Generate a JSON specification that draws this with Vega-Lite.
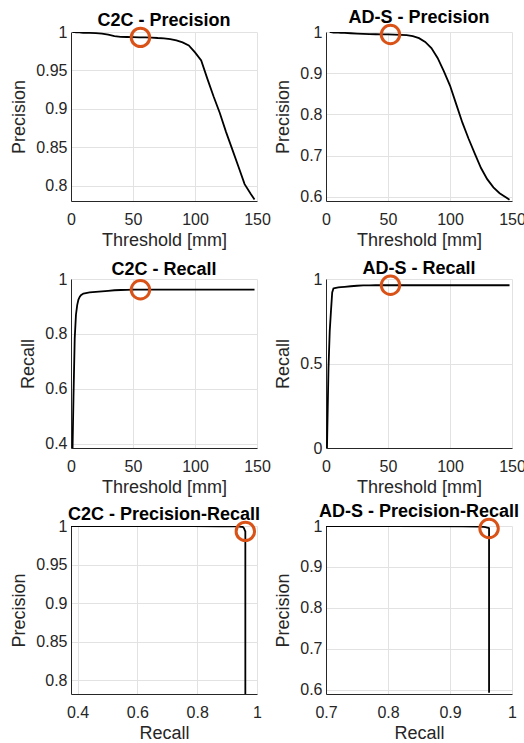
{
  "$schema": "https://vega.github.io/schema/vega-lite/v6.json",
  "background": "white",
  "padding": {"left": 10, "top": 9, "right": 14, "bottom": 0},
  "columns": 2,
  "bounds": "flush",
  "spacing": {"row": 78, "column": 69},
  "datasets": {
    "curves": [
      {"method": "C2C", "t": 1, "precision": 1.0, "recall": 0.32},
      {"method": "C2C", "t": 2, "precision": 1.0, "recall": 0.57},
      {"method": "C2C", "t": 3, "precision": 0.9998, "recall": 0.784},
      {"method": "C2C", "t": 4, "precision": 0.9997, "recall": 0.87},
      {"method": "C2C", "t": 5, "precision": 0.9996, "recall": 0.905},
      {"method": "C2C", "t": 6, "precision": 0.9995, "recall": 0.925},
      {"method": "C2C", "t": 7, "precision": 0.9994, "recall": 0.935},
      {"method": "C2C", "t": 8, "precision": 0.9993, "recall": 0.941},
      {"method": "C2C", "t": 10, "precision": 0.999, "recall": 0.947},
      {"method": "C2C", "t": 12, "precision": 0.9989, "recall": 0.949},
      {"method": "C2C", "t": 15, "precision": 0.9988, "recall": 0.951},
      {"method": "C2C", "t": 20, "precision": 0.9985, "recall": 0.953},
      {"method": "C2C", "t": 25, "precision": 0.998, "recall": 0.955},
      {"method": "C2C", "t": 30, "precision": 0.9965, "recall": 0.957},
      {"method": "C2C", "t": 35, "precision": 0.9945, "recall": 0.959},
      {"method": "C2C", "t": 40, "precision": 0.9937, "recall": 0.96},
      {"method": "C2C", "t": 45, "precision": 0.9935, "recall": 0.9605},
      {"method": "C2C", "t": 50, "precision": 0.9932, "recall": 0.961},
      {"method": "C2C", "t": 55, "precision": 0.993, "recall": 0.961},
      {"method": "C2C", "t": 60, "precision": 0.993, "recall": 0.961},
      {"method": "C2C", "t": 65, "precision": 0.9928, "recall": 0.961},
      {"method": "C2C", "t": 70, "precision": 0.9922, "recall": 0.961},
      {"method": "C2C", "t": 75, "precision": 0.9918, "recall": 0.961},
      {"method": "C2C", "t": 80, "precision": 0.9908, "recall": 0.961},
      {"method": "C2C", "t": 85, "precision": 0.989, "recall": 0.961},
      {"method": "C2C", "t": 90, "precision": 0.9865, "recall": 0.961},
      {"method": "C2C", "t": 95, "precision": 0.9825, "recall": 0.961},
      {"method": "C2C", "t": 100, "precision": 0.9735, "recall": 0.961},
      {"method": "C2C", "t": 105, "precision": 0.963, "recall": 0.961},
      {"method": "C2C", "t": 110, "precision": 0.939, "recall": 0.961},
      {"method": "C2C", "t": 115, "precision": 0.916, "recall": 0.961},
      {"method": "C2C", "t": 120, "precision": 0.8946, "recall": 0.961},
      {"method": "C2C", "t": 125, "precision": 0.87, "recall": 0.961},
      {"method": "C2C", "t": 130, "precision": 0.8476, "recall": 0.961},
      {"method": "C2C", "t": 135, "precision": 0.825, "recall": 0.961},
      {"method": "C2C", "t": 140, "precision": 0.802, "recall": 0.961},
      {"method": "C2C", "t": 145, "precision": 0.789, "recall": 0.961},
      {"method": "C2C", "t": 148, "precision": 0.782, "recall": 0.961},
      {"method": "AD-S", "t": 0.8, "precision": null, "recall": 0.0},
      {"method": "AD-S", "t": 1, "precision": null, "recall": 0.08},
      {"method": "AD-S", "t": 2, "precision": null, "recall": 0.47},
      {"method": "AD-S", "t": 3, "precision": 1.0, "recall": 0.69},
      {"method": "AD-S", "t": 4, "precision": 0.9995, "recall": 0.81},
      {"method": "AD-S", "t": 5, "precision": 0.999, "recall": 0.92},
      {"method": "AD-S", "t": 6, "precision": 0.9988, "recall": 0.944},
      {"method": "AD-S", "t": 7, "precision": 0.9986, "recall": 0.946},
      {"method": "AD-S", "t": 8, "precision": 0.9985, "recall": 0.948},
      {"method": "AD-S", "t": 10, "precision": 0.9983, "recall": 0.95},
      {"method": "AD-S", "t": 12, "precision": 0.998, "recall": 0.952},
      {"method": "AD-S", "t": 15, "precision": 0.9977, "recall": 0.954},
      {"method": "AD-S", "t": 20, "precision": 0.997, "recall": 0.957},
      {"method": "AD-S", "t": 25, "precision": 0.9962, "recall": 0.96},
      {"method": "AD-S", "t": 30, "precision": 0.9955, "recall": 0.962},
      {"method": "AD-S", "t": 35, "precision": 0.995, "recall": 0.9625},
      {"method": "AD-S", "t": 40, "precision": 0.9945, "recall": 0.963},
      {"method": "AD-S", "t": 45, "precision": 0.9942, "recall": 0.963},
      {"method": "AD-S", "t": 50, "precision": 0.994, "recall": 0.963},
      {"method": "AD-S", "t": 55, "precision": 0.9935, "recall": 0.963},
      {"method": "AD-S", "t": 60, "precision": 0.993, "recall": 0.963},
      {"method": "AD-S", "t": 65, "precision": 0.9925, "recall": 0.963},
      {"method": "AD-S", "t": 70, "precision": 0.99, "recall": 0.963},
      {"method": "AD-S", "t": 75, "precision": 0.985, "recall": 0.963},
      {"method": "AD-S", "t": 80, "precision": 0.976, "recall": 0.963},
      {"method": "AD-S", "t": 85, "precision": 0.961, "recall": 0.963},
      {"method": "AD-S", "t": 90, "precision": 0.937, "recall": 0.963},
      {"method": "AD-S", "t": 95, "precision": 0.905, "recall": 0.963},
      {"method": "AD-S", "t": 100, "precision": 0.87, "recall": 0.963},
      {"method": "AD-S", "t": 105, "precision": 0.825, "recall": 0.963},
      {"method": "AD-S", "t": 110, "precision": 0.78, "recall": 0.963},
      {"method": "AD-S", "t": 115, "precision": 0.741, "recall": 0.963},
      {"method": "AD-S", "t": 120, "precision": 0.705, "recall": 0.963},
      {"method": "AD-S", "t": 125, "precision": 0.67, "recall": 0.963},
      {"method": "AD-S", "t": 130, "precision": 0.643, "recall": 0.963},
      {"method": "AD-S", "t": 135, "precision": 0.623, "recall": 0.963},
      {"method": "AD-S", "t": 140, "precision": 0.609, "recall": 0.963},
      {"method": "AD-S", "t": 145, "precision": 0.599, "recall": 0.963},
      {"method": "AD-S", "t": 148, "precision": 0.593, "recall": 0.963}
    ],
    "best": [
      {"method": "C2C", "t": 56, "precision": 0.993, "recall": 0.961},
      {"method": "AD-S", "t": 52, "precision": 0.994, "recall": 0.963}
    ]
  },
  "concat": [
    {
      "title": {"text": "C2C - Precision"},
      "width": 186, "height": 169,
      "layer": [
        {
          "data": {"name": "curves"},
          "transform": [{"filter": "datum.method === 'C2C' && isValid(datum.precision)"}],
          "mark": {"type": "line", "color": "black", "strokeWidth": 1.8, "clip": true},
          "encoding": {
            "x": {"field": "t", "type": "quantitative", "scale": {"domain": [0, 150], "nice": false, "zero": false}, "axis": {"values": [0, 50, 100, 150], "title": "Threshold [mm]"}},
            "y": {"field": "precision", "type": "quantitative", "scale": {"domain": [0.78, 1], "nice": false, "zero": false}, "axis": {"values": [0.8, 0.85, 0.9, 0.95, 1], "title": "Precision"}}
          }
        },
        {
          "data": {"name": "best"},
          "transform": [{"filter": "datum.method === 'C2C'"}],
          "mark": {"type": "point", "shape": "circle", "filled": false, "stroke": "#D95319", "strokeWidth": 3, "size": 340, "opacity": 1},
          "encoding": {
            "x": {"field": "t", "type": "quantitative"},
            "y": {"field": "precision", "type": "quantitative"}
          }
        }
      ]
    },
    {
      "title": {"text": "AD-S - Precision"},
      "width": 186, "height": 169,
      "layer": [
        {
          "data": {"name": "curves"},
          "transform": [{"filter": "datum.method === 'AD-S' && isValid(datum.precision)"}],
          "mark": {"type": "line", "color": "black", "strokeWidth": 1.8, "clip": true},
          "encoding": {
            "x": {"field": "t", "type": "quantitative", "scale": {"domain": [0, 150], "nice": false, "zero": false}, "axis": {"values": [0, 50, 100, 150], "title": "Threshold [mm]"}},
            "y": {"field": "precision", "type": "quantitative", "scale": {"domain": [0.59, 1], "nice": false, "zero": false}, "axis": {"values": [0.6, 0.7, 0.8, 0.9, 1], "title": "Precision"}}
          }
        },
        {
          "data": {"name": "best"},
          "transform": [{"filter": "datum.method === 'AD-S'"}],
          "mark": {"type": "point", "shape": "circle", "filled": false, "stroke": "#D95319", "strokeWidth": 3, "size": 340, "opacity": 1},
          "encoding": {
            "x": {"field": "t", "type": "quantitative"},
            "y": {"field": "precision", "type": "quantitative"}
          }
        }
      ]
    },
    {
      "title": {"text": "C2C - Recall"},
      "width": 186, "height": 169,
      "layer": [
        {
          "data": {"name": "curves"},
          "transform": [{"filter": "datum.method === 'C2C'"}],
          "mark": {"type": "line", "color": "black", "strokeWidth": 1.8, "clip": true},
          "encoding": {
            "x": {"field": "t", "type": "quantitative", "scale": {"domain": [0, 150], "nice": false, "zero": false}, "axis": {"values": [0, 50, 100, 150], "title": "Threshold [mm]"}},
            "y": {"field": "recall", "type": "quantitative", "scale": {"domain": [0.385, 1], "nice": false, "zero": false}, "axis": {"values": [0.4, 0.6, 0.8, 1], "title": "Recall"}}
          }
        },
        {
          "data": {"name": "best"},
          "transform": [{"filter": "datum.method === 'C2C'"}],
          "mark": {"type": "point", "shape": "circle", "filled": false, "stroke": "#D95319", "strokeWidth": 3, "size": 340, "opacity": 1},
          "encoding": {
            "x": {"field": "t", "type": "quantitative"},
            "y": {"field": "recall", "type": "quantitative"}
          }
        }
      ]
    },
    {
      "title": {"text": "AD-S - Recall"},
      "width": 186, "height": 169,
      "layer": [
        {
          "data": {"name": "curves"},
          "transform": [{"filter": "datum.method === 'AD-S'"}],
          "mark": {"type": "line", "color": "black", "strokeWidth": 1.8, "clip": true},
          "encoding": {
            "x": {"field": "t", "type": "quantitative", "scale": {"domain": [0, 150], "nice": false, "zero": false}, "axis": {"values": [0, 50, 100, 150], "title": "Threshold [mm]"}},
            "y": {"field": "recall", "type": "quantitative", "scale": {"domain": [0, 1], "nice": false, "zero": false}, "axis": {"values": [0, 0.5, 1], "title": "Recall"}}
          }
        },
        {
          "data": {"name": "best"},
          "transform": [{"filter": "datum.method === 'AD-S'"}],
          "mark": {"type": "point", "shape": "circle", "filled": false, "stroke": "#D95319", "strokeWidth": 3, "size": 340, "opacity": 1},
          "encoding": {
            "x": {"field": "t", "type": "quantitative"},
            "y": {"field": "recall", "type": "quantitative"}
          }
        }
      ]
    },
    {
      "title": {"text": "C2C - Precision-Recall"},
      "width": 186, "height": 168,
      "layer": [
        {
          "data": {"name": "curves"},
          "transform": [{"filter": "datum.method === 'C2C' && isValid(datum.precision)"}],
          "mark": {"type": "line", "color": "black", "strokeWidth": 1.8, "clip": true},
          "encoding": {
            "x": {"field": "recall", "type": "quantitative", "scale": {"domain": [0.378, 1], "nice": false, "zero": false}, "axis": {"values": [0.4, 0.6, 0.8, 1], "title": "Recall"}},
            "y": {"field": "precision", "type": "quantitative", "scale": {"domain": [0.782, 1], "nice": false, "zero": false}, "axis": {"values": [0.8, 0.85, 0.9, 0.95, 1], "title": "Precision"}},
            "order": {"field": "t", "type": "quantitative"}
          }
        },
        {
          "data": {"name": "best"},
          "transform": [{"filter": "datum.method === 'C2C'"}],
          "mark": {"type": "point", "shape": "circle", "filled": false, "stroke": "#D95319", "strokeWidth": 3, "size": 340, "opacity": 1},
          "encoding": {
            "x": {"field": "recall", "type": "quantitative"},
            "y": {"field": "precision", "type": "quantitative"}
          }
        }
      ]
    },
    {
      "title": {"text": "AD-S - Precision-Recall"},
      "width": 186, "height": 168,
      "layer": [
        {
          "data": {"name": "curves"},
          "transform": [{"filter": "datum.method === 'AD-S' && isValid(datum.precision)"}],
          "mark": {"type": "line", "color": "black", "strokeWidth": 1.8, "clip": true},
          "encoding": {
            "x": {"field": "recall", "type": "quantitative", "scale": {"domain": [0.7, 1], "nice": false, "zero": false}, "axis": {"values": [0.7, 0.8, 0.9, 1], "title": "Recall"}},
            "y": {"field": "precision", "type": "quantitative", "scale": {"domain": [0.59, 1], "nice": false, "zero": false}, "axis": {"values": [0.6, 0.7, 0.8, 0.9, 1], "title": "Precision"}},
            "order": {"field": "t", "type": "quantitative"}
          }
        },
        {
          "data": {"name": "best"},
          "transform": [{"filter": "datum.method === 'AD-S'"}],
          "mark": {"type": "point", "shape": "circle", "filled": false, "stroke": "#D95319", "strokeWidth": 3, "size": 340, "opacity": 1},
          "encoding": {
            "x": {"field": "recall", "type": "quantitative"},
            "y": {"field": "precision", "type": "quantitative"}
          }
        }
      ]
    }
  ],
  "config": {
    "view": {"stroke": null},
    "font": "Liberation Sans",
    "title": {"fontSize": 18, "fontWeight": "bold", "color": "black", "offset": -8, "frame": "group", "anchor": "middle", "font": "Liberation Sans"},
    "axis": {
      "domainColor": "#262626", "domainWidth": 1, "ticks": false, "grid": true, "gridColor": "#e2e2e2", "gridWidth": 1,
      "labelFontSize": 16, "labelColor": "#262626", "labelFont": "Liberation Sans", "labelFlush": false, "labelOverlap": false, "format": "~r",
      "titleFontSize": 18, "titleFontWeight": "normal", "titleColor": "#262626", "titleFont": "Liberation Sans"
    },
    "axisX": {"labelPadding": 10, "titlePadding": 4},
    "axisY": {"labelPadding": 4, "titlePadding": 7}
  }
}
